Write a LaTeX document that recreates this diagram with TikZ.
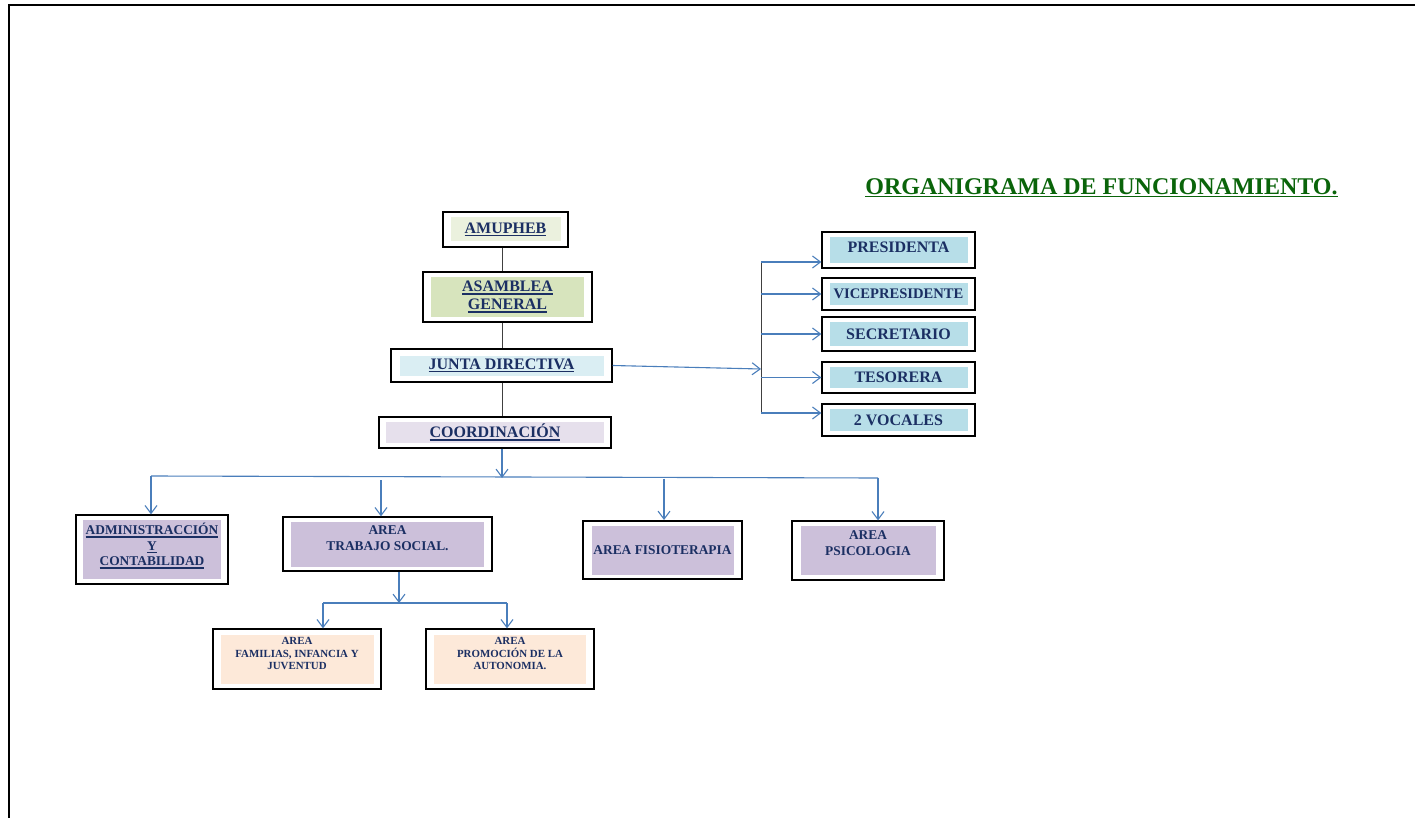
\documentclass[tikz,border=0pt]{standalone}
\usepackage{fontspec}
\setmainfont{Liberation Serif}
\usetikzlibrary{arrows.meta}
\definecolor{navy}{HTML}{1B2F63}
\definecolor{titlegreen}{HTML}{0A640A}
\definecolor{wire}{HTML}{4A7EBB}
\definecolor{amuphebfill}{HTML}{EBF1DE}
\definecolor{asambleafill}{HTML}{D7E4BD}
\definecolor{juntafill}{HTML}{DAEEF3}
\definecolor{coordfill}{HTML}{E6E0EC}
\definecolor{cargofill}{HTML}{B7DEE8}
\definecolor{areafill}{HTML}{CCC0DA}
\definecolor{subfill}{HTML}{FDE9D9}
\newcommand{\fsz}[2]{\fontsize{#1}{#2}\selectfont}
\newsavebox{\ulbox}
\newcommand{\uln}[1]{\sbox{\ulbox}{#1}\leavevmode\vtop{\copy\ulbox\kern1.3pt\hrule height 1.4pt width\wd\ulbox}}
\newcommand{\lift}[1]{\rule[-#1]{0pt}{0pt}}

\begin{document}
\begin{tikzpicture}[x=1pt,y=-1pt,
    orgbox/.style={draw=black,line width=1.2pt,fill=white,inner sep=0pt,
      align=center,text=navy,font=\bfseries},
    inset/.style n args={3}{path picture={\fill[#1]
      ([xshift=#2pt,yshift=-#3pt]path picture bounding box.north west) rectangle
      ([xshift=-#2pt,yshift=#3pt]path picture bounding box.south east);}},
    spine/.style={draw=black!75,line width=0.9pt},
    link/.style={draw=wire,line width=1.1pt},
    arrow/.style={link,-{Straight Barb[length=8pt,width=12pt]}}]
  \useasboundingbox (0,0) rectangle (1415,818);
  % page frame
  \draw[line width=2.2pt] (9,818) -- (9,5) -- (1415,5);
  % title
  \node[text=titlegreen,font=\bfseries\fsz{24}{28}] (title) at (1101.5,188)
    {\uln{ORGANIGRAMA DE FUNCIONAMIENTO.}};

  % main column
  \node[orgbox,inset={amuphebfill}{7.5}{5.5},minimum width=125pt,minimum height=35pt,
    font=\bfseries\fsz{16}{18}] (amupheb) at (505.5,229.5) {\uln{AMUPHEB}};
  \node[orgbox,inset={asambleafill}{8}{5},minimum width=169pt,minimum height=50pt,
    font=\bfseries\fsz{16}{18}] (asamblea) at (507.5,297) {\uln{ASAMBLEA}\\\uln{GENERAL}};
  \node[orgbox,inset={juntafill}{8.5}{6.5},minimum width=221pt,minimum height=33pt,
    font=\bfseries\fsz{16}{18}] (junta) at (501.5,365.5) {\uln{JUNTA DIRECTIVA}};
  \node[orgbox,inset={coordfill}{7}{5},minimum width=232pt,minimum height=31pt,
    font=\bfseries\fsz{16}{18}] (coord) at (495,432.5) {\uln{COORDINACIÓN}};

  \coordinate (axis) at (502,0);
  \draw[spine] (axis |- amupheb.south) -- (axis |- asamblea.north);
  \draw[spine] (axis |- asamblea.south) -- (axis |- junta.north);
  \draw[spine] (axis |- junta.south) -- (axis |- coord.north);

  % junta directiva members
  \node[orgbox,inset={cargofill}{7.5}{5},minimum width=153pt,minimum height=36pt,
    font=\bfseries\fsz{16}{18}] (pres) at (898.5,250) {PRESIDENTA\lift{6pt}};
  \node[orgbox,inset={cargofill}{7.5}{5},minimum width=153pt,minimum height=32pt,
    font=\bfseries\fsz{14.6}{16}] (vice) at (898.5,294) {VICEPRESIDENTE};
  \node[orgbox,inset={cargofill}{7.5}{5},minimum width=153pt,minimum height=34pt,
    font=\bfseries\fsz{16}{18}] (secr) at (898.5,334) {SECRETARIO};
  \node[orgbox,inset={cargofill}{7.5}{5},minimum width=153pt,minimum height=31pt,
    font=\bfseries\fsz{16}{18}] (teso) at (898.5,377.5) {TESORERA};
  \node[orgbox,inset={cargofill}{7.5}{5},minimum width=153pt,minimum height=32pt,
    font=\bfseries\fsz{16}{18}] (voc) at (898.5,420) {2 VOCALES};

  \coordinate (rbus) at (761,369);
  \coordinate (rtop) at (761,262);
  \coordinate (rbot) at (761,413);
  \draw[arrow] (junta.east) -- (rbus);
  \draw[spine] (rtop) -- (rbot);
  \draw[arrow] (rtop) -- (rtop -| pres.west);
  \draw[arrow] (rbus |- vice.west) -- (vice.west);
  \draw[arrow] (rbus |- secr.west) -- (secr.west);
  \draw[arrow] (rbus |- teso.west) -- (teso.west);
  \draw[arrow] (rbot) -- (rbot -| voc.west);

  % areas
  \node[orgbox,inset={areafill}{7}{5},minimum width=152pt,minimum height=69pt,
    font=\bfseries\fsz{13.4}{15.5}] (admin) at (152,549.5)
    {\uln{ADMINISTRACCIÓN}\\\uln{Y}\\\uln{CONTABILIDAD}\lift{10pt}};
  \node[orgbox,inset={areafill}{8}{4.5},minimum width=209pt,minimum height=54pt,
    font=\bfseries\fsz{13.4}{16}] (trabajo) at (387.5,544) {AREA\\TRABAJO SOCIAL.\lift{11pt}};
  \node[orgbox,inset={areafill}{8.5}{4.5},minimum width=159pt,minimum height=58pt,
    font=\bfseries\fsz{13.4}{15}] (fisio) at (662.5,550) {AREA FISIOTERAPIA};
  \node[orgbox,inset={areafill}{8.5}{5},minimum width=152pt,minimum height=59pt,
    font=\bfseries\fsz{13.4}{16}] (psico) at (868,550.5) {AREA\\PSICOLOGIA\lift{15pt}};

  \coordinate (busL) at (151,476);
  \coordinate (busR) at (878,478);
  \coordinate (tsTop) at (381,480);
  \draw[arrow] (axis |- coord.south) -- (axis |- busR);
  \draw[link] (busL) -- (busR);
  \draw[arrow] (busL) -- (busL |- admin.north);
  \draw[arrow] (tsTop) -- (tsTop |- trabajo.north);
  \draw[arrow] (664,478.5) -- (664,520);
  \draw[arrow] (busR) -- (busR |- psico.north);

  % sub-areas of trabajo social
  \node[orgbox,inset={subfill}{7.5}{5.5},minimum width=168pt,minimum height=60pt,
    font=\bfseries\fsz{10.9}{12.5}] (fam) at (297,659)
    {AREA\\FAMILIAS, INFANCIA Y\\JUVENTUD\lift{11pt}};
  \node[orgbox,inset={subfill}{8}{5.5},minimum width=168pt,minimum height=60pt,
    font=\bfseries\fsz{10.9}{12.5}] (prom) at (510,659)
    {AREA\\PROMOCIÓN DE LA\\AUTONOMIA.\lift{11pt}};

  \coordinate (subbus) at (399,603);
  \coordinate (subL) at (323,603);
  \coordinate (subR) at (507,603);
  \draw[arrow] (subbus |- trabajo.south) -- (subbus);
  \draw[link] (subL) -- (subR);
  \draw[arrow] (subL) -- (subL |- fam.north);
  \draw[arrow] (subR) -- (subR |- prom.north);
\end{tikzpicture}
\end{document}
